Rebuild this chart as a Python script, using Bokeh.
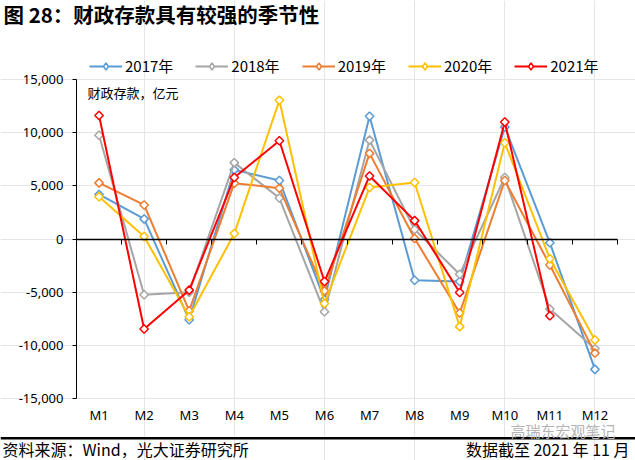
import numpy as np
from bokeh.plotting import figure
from bokeh.models import (LinearAxis, FixedTicker, NumeralTickFormatter, Legend,
                          LegendItem, Label, BoxAnnotation, Range1d)
from bokeh.embed import file_html
from bokeh.resources import INLINE

# ---------------- data ----------------
months = ["M1", "M2", "M3", "M4", "M5", "M6", "M7", "M8", "M9", "M10", "M11", "M12"]
y2017 = [4190, 1890, -7590, 6500, 5500, -5700, 11540, -3880, -4000, 10540, -360, -12260]
y2018 = [9750, -5250, -5000, 7180, 3850, -6840, 9300, 890, -3320, 5780, -6590, -10330]
y2019 = [5280, 3200, -6750, 5250, 4780, -4880, 8050, 50, -6960, 5500, -2450, -10730]
y2020 = [3970, 230, -7310, 510, 13040, -6060, 4840, 5310, -8240, 9050, -1850, -9490]
y2021 = [11620, -8460, -4810, 5780, 9240, -4000, 5930, 1730, -5030, 11010, -7210]
series_names = ["2017年", "2018年", "2019年", "2020年", "2021年"]
series_vals = [y2017, y2018, y2019, y2020, y2021]
colors = ["#5B9BD5", "#A5A5A5", "#ED7D31", "#FFC000", "#FF0000"]
y_ticks = [-15000, -10000, -5000, 0, 5000, 10000, 15000]

title_text = "图 28：财政存款具有较强的季节性"
ylabel_text = "财政存款，亿元"
source_text = "资料来源：Wind，光大证券研究所"
date_text = "数据截至 2021 年 11 月"
mark_text = "高瑞东宏观笔记"

CJK = "Noto Sans CJK SC"
NUM = "Noto Sans"

# ---------------- layout (pixels) ----------------
W, H = 635, 460
AX_L, AX_R, AX_T, AX_B = 76, 617, 79, 398   # plotting area in page pixels
YMIN, YMAX = y_ticks[0], y_ticks[-1]
n = len(months)
xstep = (AX_R - AX_L) / n
x_lo = 0.5 - AX_L / xstep
x_hi = 0.5 + (W - AX_L) / xstep
ypp = (AX_B - AX_T) / (YMAX - YMIN)
y_hi = YMAX + AX_T / ypp
y_lo = YMIN - (H - AX_B) / ypp

def sx(px):
    return px
def sy(py):
    return H - py

p = figure(width=W, height=H, output_backend="svg", toolbar_location=None,
           x_range=Range1d(x_lo, x_hi), y_range=Range1d(y_lo, y_hi),
           x_axis_location=None, y_axis_location=None,
           min_border=0, min_border_left=0, min_border_right=0,
           min_border_top=0, min_border_bottom=0, title=None)
p.outline_line_color = None
p.background_fill_color = "white"
p.border_fill_color = "white"

# y axis
ya = LinearAxis(fixed_location=0.5, bounds=(YMIN, YMAX), ticker=FixedTicker(ticks=y_ticks),
                formatter=NumeralTickFormatter(format="0,0"))
ya.major_tick_out = 4
ya.major_tick_in = 0
ya.minor_tick_line_color = None
ya.axis_line_color = "black"
ya.major_tick_line_color = "black"
ya.major_label_text_font = NUM
ya.major_label_text_font_size = "13px"
ya.major_label_text_color = "black"
ya.major_label_standoff = 9
p.add_layout(ya, "left")

# month labels at the bottom
xa = LinearAxis(fixed_location=YMIN, ticker=FixedTicker(ticks=list(range(1, n + 1))))
xa.major_label_overrides = {i + 1: m for i, m in enumerate(months)}
xa.axis_line_color = None
xa.major_tick_line_color = None
xa.minor_tick_line_color = None
xa.major_tick_out = 0
xa.major_tick_in = 0
xa.major_label_standoff = 7
xa.major_label_text_font = NUM
xa.major_label_text_font_size = "13px"
xa.major_label_text_color = "black"
p.add_layout(xa, "below")

# zero axis with ticks between categories
za = LinearAxis(fixed_location=0, bounds=(0.5, n + 0.5),
                ticker=FixedTicker(ticks=[i + 0.5 for i in range(n + 1)]))
za.axis_line_color = "black"
za.axis_line_width = 1.3
za.major_tick_line_color = "black"
za.major_tick_out = 5
za.major_tick_in = 0
za.minor_tick_line_color = None
za.major_label_text_color = None
za.major_label_text_font_size = "1px"
za.major_label_standoff = 0
p.add_layout(za, "below")

items = []
for name, vals, c in zip(series_names, series_vals, colors):
    xs = list(range(1, len(vals) + 1))
    r1 = p.line(xs, vals, line_color=c, line_width=2)
    p.scatter(xs, vals, marker="square", angle=np.pi / 4, size=6,
              fill_color="white", line_color=c, line_width=1.5)
    # hidden diamond renderer used only for the legend key
    r_key = p.scatter(xs, vals, marker="diamond", size=10,
                      fill_color="white", line_color=c, line_width=1.5, visible=False)
    items.append(LegendItem(label=name, renderers=[r1, r_key]))

legend = Legend(items=items, orientation="horizontal", location=(sx(89), sy(76)),
                glyph_width=33, glyph_height=18, label_height=18, label_standoff=3,
                spacing=22, padding=0, margin=0, border_line_color=None,
                background_fill_alpha=0, inactive_fill_alpha=0,
                label_text_font=CJK,
                label_text_font_size="15px", label_text_color="black")
p.add_layout(legend)

p.add_layout(Label(x=sx(87), y=sy(92), x_units="screen", y_units="screen",
                   text=ylabel_text, text_font=CJK, text_font_size="13px",
                   text_baseline="middle", text_color="black"))

p.add_layout(Label(x=sx(3), y=sy(13), x_units="screen", y_units="screen",
                   text=title_text, text_font=CJK, text_font_size="20.5px",
                   text_font_style="bold", text_baseline="middle", text_color="black"))

# footer rule
p.add_layout(BoxAnnotation(left=0, right=W, top=sy(436.5), bottom=sy(439),
                           left_units="screen", right_units="screen",
                           top_units="screen", bottom_units="screen",
                           fill_color="black", fill_alpha=1, line_color=None))

p.add_layout(Label(x=sx(2), y=sy(448), x_units="screen", y_units="screen",
                   text=source_text, text_font=CJK, text_font_size="16px",
                   text_baseline="middle", text_color="black"))
p.add_layout(Label(x=sx(629), y=sy(448), x_units="screen", y_units="screen",
                   text=date_text, text_font=CJK, text_font_size="16px",
                   text_baseline="middle", text_align="right", text_color="black"))
p.add_layout(Label(x=sx(615), y=sy(430), x_units="screen", y_units="screen",
                   text=mark_text, text_font=CJK, text_font_size="15px",
                   text_baseline="middle", text_align="right", text_color="#b4b4b4"))

open("out.html", "w").write(file_html(p, INLINE))
